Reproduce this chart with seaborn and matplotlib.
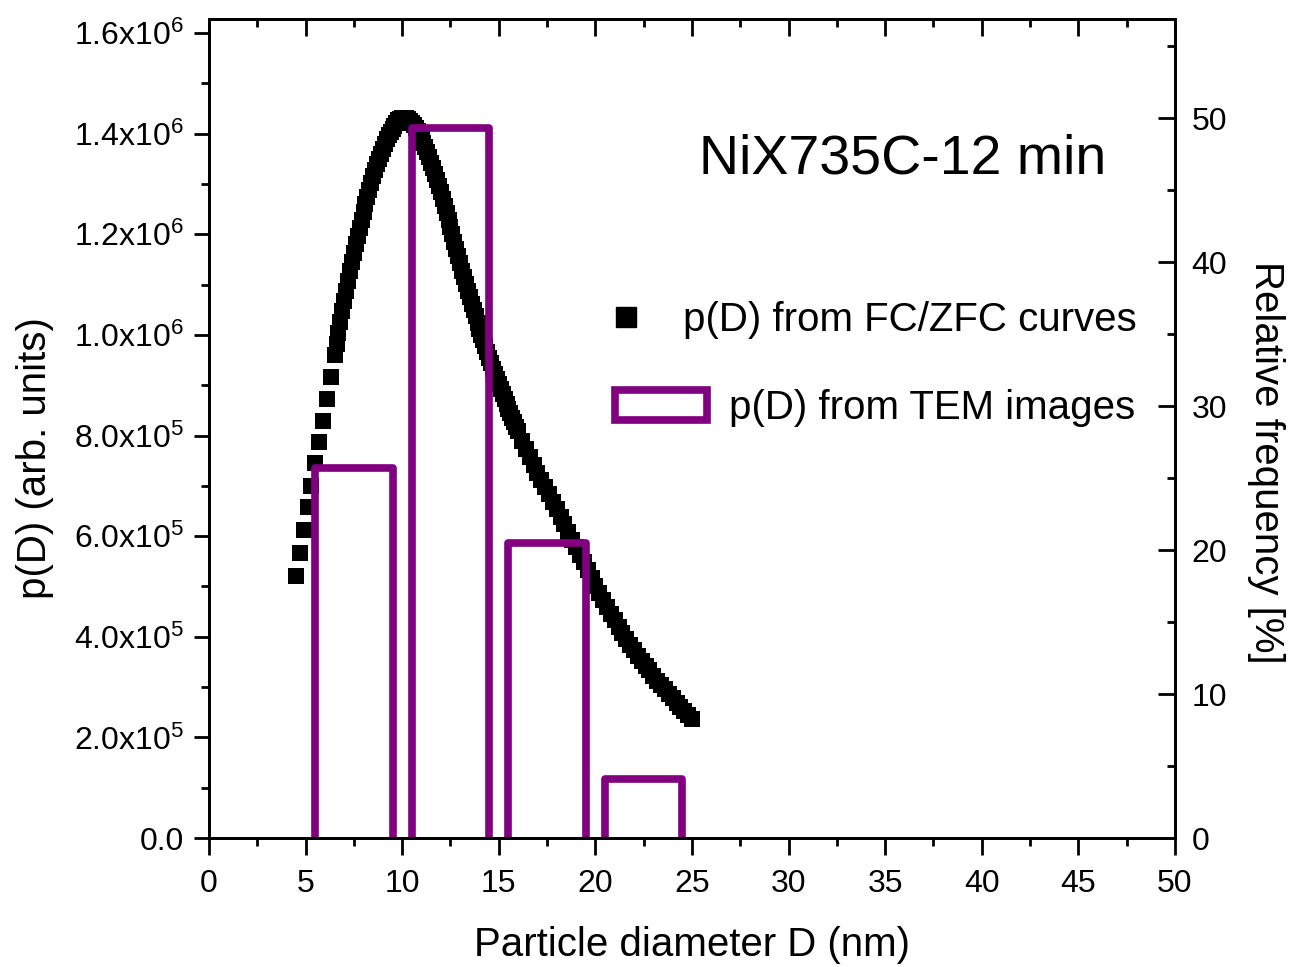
import numpy as np
import matplotlib
matplotlib.use('Agg')
import matplotlib.pyplot as plt
import seaborn as sns
from matplotlib.ticker import MultipleLocator, FuncFormatter
from matplotlib.lines import Line2D

# p(D) from FC/ZFC curves (diameter in nm, p in units of 1e6)
diam_nm = [4.5, 4.7, 4.9, 5.1, 5.3, 5.5, 5.7, 5.9, 6.1, 6.3, 6.5,
           6.6, 6.7, 6.8, 6.9, 7.0, 7.1, 7.2, 7.3, 7.4, 7.5,
           7.6, 7.7, 7.8, 7.9, 8.0, 8.1, 8.2, 8.3, 8.4, 8.5,
           8.6, 8.7, 8.8, 8.9, 9.0, 9.1, 9.2, 9.3, 9.4, 9.5,
           9.6, 9.7, 9.8, 9.9, 10.0, 10.1, 10.2, 10.3, 10.4, 10.5,
           10.6, 10.7, 10.8, 10.9, 11.0, 11.1, 11.2, 11.3, 11.4, 11.5,
           11.6, 11.7, 11.8, 11.9, 12.0, 12.1, 12.2, 12.3, 12.4, 12.5,
           12.6, 12.7, 12.8, 12.9, 13.0, 13.1, 13.2, 13.3, 13.4, 13.5,
           13.6, 13.7, 13.8, 13.9, 14.0, 14.1, 14.2, 14.3, 14.4, 14.5,
           14.6, 14.7, 14.8, 14.9, 15.0, 15.1, 15.2, 15.3, 15.4, 15.5,
           15.6, 15.7, 15.8, 15.9, 16.0,
           16.2, 16.4, 16.6, 16.8, 17.0, 17.2, 17.4, 17.6, 17.8, 18.0,
           18.2, 18.4, 18.6, 18.8, 19.0, 19.2, 19.4, 19.6, 19.8, 20.0,
           20.2, 20.4, 20.6, 20.8, 21.0, 21.2, 21.4, 21.6, 21.8, 22.0,
           22.2, 22.4, 22.6, 22.8, 23.0, 23.2, 23.4, 23.6, 23.8, 24.0,
           24.2, 24.4, 24.6, 24.8, 25.0]
p_fczfc = [0.520, 0.566, 0.613, 0.658, 0.700, 0.745, 0.788, 0.829, 0.872, 0.916, 0.960,
           0.982, 1.004, 1.026, 1.047, 1.068, 1.088, 1.108, 1.127, 1.145, 1.163,
           1.180, 1.197, 1.213, 1.229, 1.245, 1.260, 1.275, 1.289, 1.302, 1.315,
           1.327, 1.339, 1.350, 1.360, 1.370, 1.380, 1.389, 1.397, 1.404, 1.410,
           1.416, 1.422, 1.427, 1.430, 1.432, 1.432, 1.431, 1.429, 1.426, 1.422,
           1.417, 1.411, 1.405, 1.398, 1.390, 1.382, 1.373, 1.363, 1.353, 1.342,
           1.331, 1.320, 1.308, 1.296, 1.284, 1.271, 1.257, 1.243, 1.229, 1.214,
           1.200, 1.185, 1.171, 1.156, 1.142, 1.128, 1.115, 1.101, 1.088, 1.075,
           1.062, 1.049, 1.037, 1.024, 1.012, 1.000, 0.989, 0.977, 0.966, 0.955,
           0.944, 0.933, 0.923, 0.912, 0.902, 0.892, 0.882, 0.872, 0.863, 0.853,
           0.844, 0.835, 0.826, 0.817, 0.808,
           0.790, 0.773, 0.757, 0.741, 0.726, 0.712, 0.697, 0.683, 0.668, 0.654,
           0.639, 0.624, 0.608, 0.593, 0.578, 0.563, 0.548, 0.532, 0.516, 0.501,
           0.487, 0.473, 0.459, 0.446, 0.433, 0.420, 0.408, 0.396, 0.384, 0.373,
           0.362, 0.352, 0.342, 0.333, 0.323, 0.313, 0.304, 0.296, 0.287, 0.278,
           0.269, 0.261, 0.253, 0.245, 0.237]

# TEM histogram (bin centres in nm, relative frequency in %)
tem_centers = [7.5, 12.5, 17.5, 22.5]
tem_width = 4.0
tem_freq = [25.7, 49.3, 20.5, 4.1]

purple = '#800080'

sns.set_style('ticks')
plt.rcParams['font.family'] = ['Liberation Sans', 'DejaVu Sans']
plt.rcParams['mathtext.fontset'] = 'custom'
plt.rcParams['mathtext.rm'] = 'Liberation Sans'
plt.rcParams['mathtext.it'] = 'Liberation Sans:italic'
plt.rcParams['mathtext.bf'] = 'Liberation Sans:bold'
for k in ['text.color', 'axes.labelcolor', 'xtick.color', 'ytick.color',
          'axes.edgecolor']:
    plt.rcParams[k] = 'black'

fig = plt.figure(figsize=(12.95, 9.67), dpi=100)
ax = fig.add_axes([0.1614, 0.1334, 0.7459, 0.8470])

sns.scatterplot(x=diam_nm, y=np.array(p_fczfc) * 1e6, marker='s', s=120,
                color='black', linewidth=0, ax=ax, legend=False, zorder=3)

ax.set_xlim(0, 50)
ax.set_ylim(0, 1.628e6)

def sci_fmt(v, pos):
    if v < 1:
        return '0.0'
    e = int(np.floor(np.log10(v) + 1e-9))
    return f'{v / 10**e:.1f}x10$^{{{e}}}$'

ax.xaxis.set_major_locator(MultipleLocator(5))
ax.xaxis.set_minor_locator(MultipleLocator(2.5))
ax.yaxis.set_major_locator(MultipleLocator(2e5))
ax.yaxis.set_minor_locator(MultipleLocator(1e5))
ax.yaxis.set_major_formatter(FuncFormatter(sci_fmt))

ax.tick_params(axis='x', which='both', direction='out', bottom=True, top=False,
               labelsize=23, width=2, pad=10)
ax.tick_params(axis='x', which='major', length=12)
ax.tick_params(axis='x', which='minor', length=6)
ax.tick_params(axis='y', which='both', direction='out', left=True, right=False,
               labelsize=23, width=2, pad=7)
ax.tick_params(axis='y', which='major', length=11)
ax.tick_params(axis='y', which='minor', length=6)

top = ax.secondary_xaxis('top')
top.xaxis.set_major_locator(MultipleLocator(5))
top.xaxis.set_minor_locator(MultipleLocator(2.5))
top.tick_params(axis='x', which='both', direction='in', width=2, labeltop=False)
top.tick_params(axis='x', which='major', length=12)
top.tick_params(axis='x', which='minor', length=6)
top.spines['top'].set_linewidth(2)

for sp in ax.spines.values():
    sp.set_linewidth(2)
    sp.set_visible(True)

ax.set_xlabel('Particle diameter D (nm)', fontsize=29, labelpad=20)
ax.set_ylabel('p(D) (arb. units)', fontsize=29)
ax.yaxis.set_label_coords(-0.16, 0.464)

# right axis: TEM histogram
ax2 = ax.twinx()
# bars start just below zero so their bottom edge is hidden under the axis
bars = ax2.bar(tem_centers, np.array(tem_freq) + 1, bottom=-1, width=tem_width,
               fill=False, edgecolor=purple, linewidth=5.5,
               label='p(D) from TEM images')
for b in bars:
    b.set_joinstyle('round')
ax2.set_ylim(0, 56.9)
ax2.yaxis.set_major_locator(MultipleLocator(10))
ax2.yaxis.set_minor_locator(MultipleLocator(5))
ax2.tick_params(axis='y', which='both', direction='in', right=True, left=False,
                labelsize=23, width=2, pad=12)
ax2.tick_params(axis='y', which='major', length=12)
ax2.tick_params(axis='y', which='minor', length=6)
for sp in ax2.spines.values():
    sp.set_linewidth(2)
ax2.set_ylabel('Relative frequency [%]', fontsize=29, rotation=-90)
ax2.yaxis.set_label_coords(1.114, 0.459)

ax.text(0.718, 0.828, 'NiX735C-12 min', transform=ax.transAxes,
        fontsize=40, ha='center', va='center')

h1 = Line2D([], [], marker='s', color='black', linestyle='', markersize=14)
leg1 = ax2.legend([h1], ['p(D) from FC/ZFC curves'], loc='center left',
                  bbox_to_anchor=(0.411, 0.6325), frameon=False, fontsize=29,
                  handlelength=1.0, handletextpad=0.9, borderpad=0,
                  borderaxespad=0)
ax2.add_artist(leg1)
ax2.legend([bars.patches[0]], ['p(D) from TEM images'], loc='center left',
           bbox_to_anchor=(0.42, 0.525), frameon=False, fontsize=29,
           handlelength=2.3, handleheight=0.8, handletextpad=0.55, borderpad=0,
           borderaxespad=0)

fig.savefig('out.png', dpi=100)
